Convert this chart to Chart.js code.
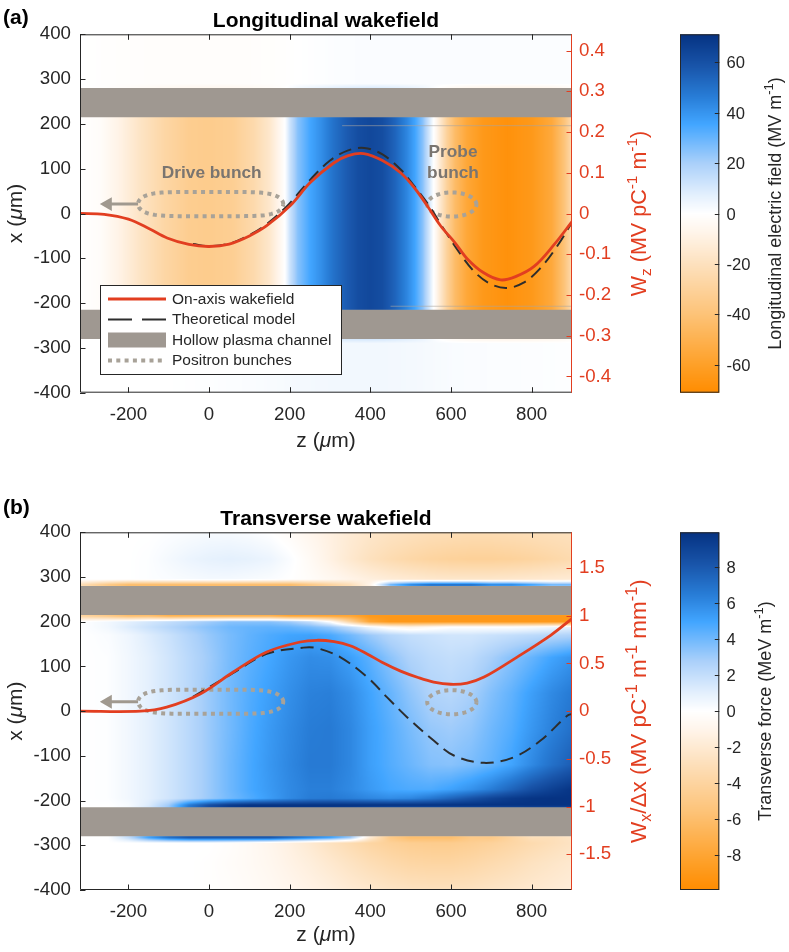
<!DOCTYPE html>
<html><head><meta charset="utf-8">
<script src="https://cdn.jsdelivr.net/npm/chart.js@4.4.1/dist/chart.umd.min.js"></script>
<style>
html,body{margin:0;padding:0;background:#fff;}
#wrap{position:relative;width:789px;height:952px;overflow:hidden;background:#fff}
canvas{position:absolute;left:0}
</style>
</head><body>
<div id="wrap">
<canvas id="ca" width="789" height="476" style="top:0px"></canvas>
<canvas id="cb" width="789" height="476" style="top:476px"></canvas>
</div>
<script>
// ---------------- axes / ticks ----------------
const zRange = [-320, 900];
const xRange = [-400, 400];
const zTicks = [-200, 0, 200, 400, 600, 800];
const xTicks = [-400, -300, -200, -100, 0, 100, 200, 300, 400];
const wzRange = [-0.44, 0.44];
const wzTicks = [-0.4, -0.3, -0.2, -0.1, 0, 0.1, 0.2, 0.3, 0.4];
const wxRange = [-1.875, 1.875];
const wxTicks = [-1.5, -1, -0.5, 0, 0.5, 1, 1.5];
const ezRange = [-71, 71];
const ezBarTicks = [-60, -40, -20, 0, 20, 40, 60];
const fxRange = [-9.95, 9.95];
const fxBarTicks = [-8, -6, -4, -2, 0, 2, 4, 6, 8];

// ---------------- curves ----------------
const wzZ = [-320,-260,-200,-147,-104,-50,0,50,100,143,201,251,309,345,383,430,475,510,541,574,610,640,680,723,760,806,856,900];
const wzOnAxis = [0,-0.002,-0.014,-0.038,-0.060,-0.076,-0.081,-0.075,-0.055,-0.030,0.019,0.076,0.124,0.142,0.147,0.130,0.100,0.062,0.019,-0.030,-0.072,-0.111,-0.145,-0.163,-0.155,-0.130,-0.076,-0.020];
const wzTheoryZ = [-40,0,50,100,143,195,250,300,345,385,430,475,510,545,580,620,660,700,739,780,820,860,900];
const wzTheory = [-0.075,-0.080,-0.074,-0.053,-0.026,0.020,0.082,0.130,0.155,0.161,0.145,0.108,0.066,0.020,-0.035,-0.095,-0.145,-0.174,-0.183,-0.170,-0.136,-0.085,-0.022];

const wxZ = [-320,-170,-105,-22,60,143,226,268,310,350,392,430,475,520,557,599,640,682,764,847,900];
const wxOnAxis = [0,0,0.042,0.18,0.41,0.62,0.725,0.743,0.728,0.685,0.600,0.510,0.420,0.350,0.305,0.282,0.295,0.357,0.567,0.795,0.97];
const wxTheoryZ = [-40,60,143,234,268,325,392,441,491,557,607,682,756,822,889,900];
const wxTheory = [0.15,0.40,0.60,0.666,0.66,0.567,0.357,0.147,-0.063,-0.308,-0.465,-0.542,-0.483,-0.308,-0.045,-0.03];

// ---------------- plasma channel (x, um) ----------------
const channelUpper = [215, 280];
const channelLower = [-280, -215];
// thin perturbed channel-wall lines in (a): [x, z from, z to]
const wallLinesA = [[196, 330, 900], [-207, 450, 900]];

// ---------------- bunches: [z centre, x centre, z half-length, x half-width, shape exponent] ----------------
const driveBunch = [4, 21, 180, 27, 6];
const probeBunch = [602, 20, 61, 27, 2];
const arrowShaft = [-176, -245];
const arrowTip = -251;

// ---------------- longitudinal field Ez (MV/m) ----------------
const ezZ = [-320,-270,-220,-170,-110,-50,0,60,110,150,175,188,200,220,250,280,310,340,370,400,430,460,490,510,530,545,557,570,590,610,640,680,740,800,850,880,900];
const ezInner = [0,-2,-9,-18,-27,-33,-34,-32,-25,-16,-6,0,12,25,35,42,50,56,61,63,61,54,44,36,25,12,0,-12,-30,-44,-56,-64,-68,-64,-55,-40,-24];
const ezOuterTop = [0,-0.5,-1,-1.2,-1.5,-1.5,-1.5,-1.5,-1.2,-1,-0.8,-0.6,-0.4,0,0.3,0.6,0.9,1.1,1.2,1.3,1.3,1.3,1.3,1.3,1.3,1.3,1.3,1.3,1.3,1.3,1.2,1.2,1.1,1,1,1,1];
const ezOuterBottom = [0,0,0,0,0,0.3,0.6,1,1.4,1.8,2,2.2,2.5,2.8,3,3.2,3.4,3.5,3.5,3.5,3.4,3.2,3,2.8,2.6,2.4,2.2,2,1.8,1.6,1.4,1.2,1,0.8,0.7,0.6,0.5];
const ezRowX = [400, 290, 213, -213, -290, -400];

// ---------------- transverse force Fx (MeV/m) ----------------
const fxZ = [-320,-250,-200,-150,-100,-50,0,50,100,150,200,250,300,350,400,450,500,550,600,650,700,750,800,850,900];
const fxRowX = [400,340,295,283,213,200,188,170,120,40,-40,-120,-175,-195,-210,-283,-295,-340,-400];
const fxGrid = [
 [0,0,0,0,0.1,0.2,0.3,0.3,0.2,0,-0.4,-0.9,-1.4,-1.9,-2.3,-2.6,-2.8,-3.0,-3.1,-3.2,-3.2,-3.1,-3.0,-2.9,-2.8],
 [0,0,0,0.1,0.4,0.7,0.9,1.0,0.9,0.7,0.2,-0.5,-1.3,-2.1,-2.8,-3.3,-3.7,-4.0,-4.2,-4.3,-4.3,-4.2,-4.0,-3.7,-3.4],
 [0,0,0,0.1,0.2,0.3,0.4,0.4,0.3,0.2,0,-0.3,-0.7,-1.1,-1.5,-1.8,-2.0,-2.2,-2.3,-2.3,-2.3,-2.2,-2.1,-2.0,-1.9],
 [-3,-5,-6,-6,-6,-6,-6,-6,-6,-6,-6,-5,-4,-3,-1,4,6,7,7,7,6,6,5,4,4],
 [-4,-5,-6,-6,-7,-7,-7,-7,-7,-7,-8,-8,-8,-8,-9,-9,-9,-9,-9,-9,-9,-9,-9,-9,-9],
 [0,0.5,1,1.5,2,2.5,3,3.5,3.5,3.5,3,2,0,-4,-8,-9,-9,-9,-9,-9,-9,-9,-9,-9,-9],
 [0,0.5,1.2,1.8,2.4,3,3.5,4,4.2,4.3,4.2,3.8,3.2,2,0.5,-0.5,-1,-0.5,0,0,0,0,0.2,0.5,1],
 [0,0.2,0.6,1.2,1.8,2.5,3.2,3.8,4.3,4.7,5.0,5.1,4.8,4.0,3.1,2.4,2.0,1.8,1.6,1.6,1.8,2.0,2.2,2.4,2.6],
 [0,0.1,0.5,1.0,1.6,2.3,3.0,3.8,4.4,4.9,5.5,5.9,5.8,5.2,4.4,3.4,2.6,2.2,2.0,2.2,2.8,3.5,4.2,5.0,5.6],
 [0,0.1,0.5,1.0,1.6,2.3,3.1,3.9,4.6,5.2,5.8,6.3,6.4,5.9,5.0,4.2,3.3,2.6,2.4,2.8,3.6,4.3,5.2,6.0,6.6],
 [0,0.1,0.5,1.0,1.6,2.3,3.1,3.9,4.7,5.4,6.0,6.5,6.6,6.1,5.2,4.5,3.8,3.2,3.0,3.3,4.0,4.6,5.5,6.3,7.0],
 [0,0.1,0.5,1.0,1.6,2.3,3.1,4.0,4.8,5.5,6.1,6.6,6.6,6.1,5.2,4.6,4.1,3.6,3.5,3.8,4.3,5.0,6.0,7.0,7.8],
 [0,0.1,0.5,1.0,1.6,2.3,3.1,4.0,4.8,5.4,6.0,6.4,6.4,6.0,5.4,4.9,4.7,4.7,5.1,5.7,6.5,7.5,8.5,9.2,9.8],
 [0,0.1,0.5,1.0,1.6,2.3,3.1,3.9,4.6,5.3,6.0,6.5,6.6,6.4,6.1,5.9,6.1,6.7,7.5,8.3,9.0,9.5,9.8,9.9,9.9],
 [0,0,0.3,1.2,3,6.5,8.5,9.5,9.9,9.9,9.9,9.9,9.9,9.9,9.9,9.9,9.9,9.9,9.9,9.9,9.9,9.9,9.9,9.9,9.9],
 [0,0,2,5,7,8,8,8,8,8,7,6,5,3,-2,-5,-6,-6,-6,-5,-5,-4,-3,-3,-2.5],
 [0,0,0,0,0,0,0,-0.2,-0.5,-0.9,-1.4,-2.0,-2.7,-3.3,-3.9,-4.3,-4.6,-4.7,-4.7,-4.5,-4.2,-3.8,-3.4,-3.0,-2.6],
 [0,0,0,0,0,0,-0.1,-0.3,-0.5,-0.8,-1.2,-1.6,-2.1,-2.6,-3.1,-3.5,-3.8,-3.9,-3.9,-3.7,-3.4,-3.1,-2.7,-2.4,-2.1],
 [0,0,0,0,0,0,-0.1,-0.2,-0.4,-0.6,-0.9,-1.2,-1.5,-1.9,-2.2,-2.5,-2.7,-2.8,-2.8,-2.7,-2.5,-2.3,-2.1,-1.9,-1.7]
];

// ---------------- colormap (orange - white - blue) ----------------
const cmapPos = [-1,-0.845,-0.56,-0.28,-0.1,0,0.1,0.28,0.5,0.65,0.82,1];
const cmapRGB = [[255,140,0],[254,160,40],[253,195,120],[253,225,190],[255,245,235],[255,255,255],[228,240,253],[170,208,250],[65,165,255],[40,125,215],[25,85,170],[5,50,130]];

// ================= helpers =================
const FONT = '"Liberation Sans", Arial, Helvetica, sans-serif';
const DARK = 'rgb(38,38,38)';
const RED = 'rgb(226,62,32)';
const GRAY_BAND = 'rgb(159,152,145)';
const GRAY_DOT = 'rgb(168,162,152)';
const GRAY_TXT = 'rgb(122,117,112)';

const LUT = (function(){
  const n = 2001, out = new Array(n);
  for (let i = 0; i < n; i++) {
    const t = -1 + 2 * i / (n - 1);
    let k = 0; while (k < cmapPos.length - 2 && t > cmapPos[k+1]) k++;
    const f = (t - cmapPos[k]) / (cmapPos[k+1] - cmapPos[k]);
    const a = cmapRGB[k], b = cmapRGB[k+1];
    out[i] = [a[0]+(b[0]-a[0])*f, a[1]+(b[1]-a[1])*f, a[2]+(b[2]-a[2])*f].map(Math.round);
  }
  return out;
})();
function colorOf(t){ t = Math.max(-1, Math.min(1, t)); return LUT[Math.round((t+1)/2*2000)]; }

function pts(xs, ys){ return xs.map((x,i)=>({x:x, y:ys[i]})); }
function bunchOutline(b){
  const [zc, xc, rz, rx, n] = b, out = [];
  for (let i = 0; i <= 120; i++) {
    const t = i / 120 * 2 * Math.PI, c = Math.cos(t), s = Math.sin(t);
    out.push({x: zc + rz * Math.sign(c) * Math.pow(Math.abs(c), 2/n), y: xc + rx * s});
  }
  return out;
}

function heatPlugin(zK, xR, grid, vmax){
  return { id:'heat', beforeDatasetsDraw(chart){
    const ca = chart.chartArea, xs = chart.scales.x, ys = chart.scales.y;
    const L = Math.round(ca.left), T = Math.round(ca.top);
    const W = Math.round(ca.right) - L, H = Math.round(ca.bottom) - T;
    const off = document.createElement('canvas'); off.width = W; off.height = H;
    const oc = off.getContext('2d'); const img = oc.createImageData(W, H); const d = img.data;
    const ci = [], cf = [];
    for (let i = 0; i < W; i++) {
      const z = xs.getValueForPixel(L + i + 0.5);
      let k = 0; while (k < zK.length - 2 && z > zK[k+1]) k++;
      ci.push(k); cf.push(Math.max(0, Math.min(1, (z - zK[k]) / (zK[k+1] - zK[k]))));
    }
    for (let j = 0; j < H; j++) {
      const x = ys.getValueForPixel(T + j + 0.5);
      let r = 0; while (r < xR.length - 2 && x < xR[r+1]) r++;
      const g = Math.max(0, Math.min(1, (xR[r] - x) / (xR[r] - xR[r+1])));
      const A = grid[r], B = grid[r+1];
      for (let i = 0; i < W; i++) {
        const k = ci[i], f = cf[i];
        const va = A[k] + (A[k+1]-A[k]) * f, vb = B[k] + (B[k+1]-B[k]) * f;
        const c = colorOf((va + (vb - va) * g) / vmax);
        const p = (j * W + i) * 4; d[p]=c[0]; d[p+1]=c[1]; d[p+2]=c[2]; d[p+3]=255;
      }
    }
    oc.putImageData(img, 0, 0);
    chart.ctx.drawImage(off, L, T);
  }};
}

function richText(ctx, segs, cx, cy, size, color, rot){
  ctx.save(); ctx.translate(cx, cy); ctx.rotate(rot); ctx.fillStyle = color;
  ctx.textBaseline = 'alphabetic'; ctx.textAlign = 'left';
  const font = (s)=> (s[1]==='it' ? 'italic ' : '') + ((s[1]==='sub'||s[1]==='sup') ? size*0.72 : size) + 'px ' + FONT;
  let total = 0;
  segs.forEach(s=>{ ctx.font = font(s); total += ctx.measureText(s[0]).width; });
  let x = -total / 2;
  segs.forEach(s=>{
    ctx.font = font(s);
    const dy = s[1]==='sub' ? size*0.22 : (s[1]==='sup' ? -size*0.42 : 0);
    ctx.fillText(s[0], x, dy); x += ctx.measureText(s[0]).width;
  });
  ctx.restore();
}

function decoPlugin(P){
  return { id:'deco', afterDatasetsDraw(chart){
    const ctx = chart.ctx, ca = chart.chartArea, xs = chart.scales.x, ys = chart.scales.y, y2 = chart.scales.y2, cb = chart.scales.cb;
    const L = ca.left, R = ca.right, T = ca.top, B = ca.bottom;
    ctx.save();
    if (P.legend) {
      const lx = 100.5, ly = 285.5, lw = 241, lh = 89;
      ctx.fillStyle = '#fff'; ctx.fillRect(lx, ly, lw, lh);
      ctx.strokeStyle = DARK; ctx.lineWidth = 1; ctx.strokeRect(lx, ly, lw, lh);
      const rows = [299, 319.5, 340, 360.5];
      ctx.lineCap = 'butt';
      ctx.strokeStyle = RED; ctx.lineWidth = 2.8; ctx.beginPath(); ctx.moveTo(108, rows[0]); ctx.lineTo(166, rows[0]); ctx.stroke();
      ctx.strokeStyle = 'rgb(45,45,45)'; ctx.lineWidth = 2; ctx.setLineDash([24, 10]); ctx.beginPath(); ctx.moveTo(108, rows[1]); ctx.lineTo(166, rows[1]); ctx.stroke();
      ctx.setLineDash([]); ctx.fillStyle = GRAY_BAND; ctx.fillRect(108, rows[2]-7.5, 58, 15);
      ctx.strokeStyle = GRAY_DOT; ctx.lineWidth = 4; ctx.setLineDash([4, 4.3]); ctx.beginPath(); ctx.moveTo(108, rows[3]); ctx.lineTo(166, rows[3]); ctx.stroke();
      ctx.setLineDash([]);
      ctx.fillStyle = DARK; ctx.font = '15.5px ' + FONT; ctx.textBaseline = 'middle'; ctx.textAlign = 'left';
      ['On-axis wakefield','Theoretical model','Hollow plasma channel','Positron bunches'].forEach((t,i)=>ctx.fillText(t, 172, rows[i]+0.5));
    }
    ctx.lineWidth = 1; ctx.strokeStyle = DARK; ctx.setLineDash([]);
    ctx.beginPath();
    ctx.moveTo(L+0.5, T+0.5); ctx.lineTo(L+0.5, B-0.5); ctx.lineTo(R, B-0.5);
    ctx.moveTo(L, T+0.5); ctx.lineTo(R, T+0.5);
    zTicks.forEach(v=>{ const p = Math.round(xs.getPixelForValue(v))+0.5; ctx.moveTo(p, B); ctx.lineTo(p, B-5.5); ctx.moveTo(p, T); ctx.lineTo(p, T+5.5); });
    xTicks.forEach(v=>{ const p = Math.round(ys.getPixelForValue(v))+0.5; ctx.moveTo(L, p); ctx.lineTo(L+5.5, p); });
    ctx.stroke();
    ctx.strokeStyle = RED; ctx.beginPath();
    ctx.moveTo(R-0.5, T); ctx.lineTo(R-0.5, B);
    P.y2Ticks.forEach(v=>{ const p = Math.round(y2.getPixelForValue(v))+0.5; ctx.moveTo(R, p); ctx.lineTo(R-5.5, p); });
    ctx.stroke();
    const cL = 680, cR = 719.3;
    for (let y = Math.floor(T); y < Math.ceil(B); y++) {
      const c = colorOf(cb.getValueForPixel(y + 0.5) / P.cbMax);
      ctx.fillStyle = 'rgb(' + c[0] + ',' + c[1] + ',' + c[2] + ')';
      ctx.fillRect(cL, Math.max(y, T), cR - cL, 1);
    }
    ctx.strokeStyle = DARK; ctx.lineWidth = 1; ctx.strokeRect(cL + 0.5, T + 0.5, cR - cL - 1, B - T - 1);
    ctx.beginPath();
    ctx.fillStyle = DARK; ctx.font = '16.6px ' + FONT; ctx.textAlign = 'left'; ctx.textBaseline = 'middle';
    P.cbTicks.forEach(v=>{ const p = Math.round(cb.getPixelForValue(v))+0.5; ctx.moveTo(cR, p); ctx.lineTo(cR-4.5, p); ctx.fillText(String(v), 726.5, p+0.5); });
    ctx.stroke();
    ctx.restore();
  },
  afterDraw(chart){
    const ctx = chart.ctx, ca = chart.chartArea;
    ctx.save();
    ctx.fillStyle = '#000'; ctx.textBaseline = 'alphabetic';
    ctx.font = 'bold 21px ' + FONT; ctx.textAlign = 'left'; ctx.fillText(P.tag, 3, P.tagBase);
    ctx.textAlign = 'center'; ctx.fillText(P.title, (ca.left + ca.right)/2, P.titleBase);
    richText(ctx, [['z (',''],['\u03BC','it'],['m)','']], (ca.left+ca.right)/2, P.xTitleBase, 21, DARK, 0);
    richText(ctx, [['x (',''],['\u03BC','it'],['m)','']], 22, (ca.top+ca.bottom)/2, 21, DARK, -Math.PI/2);
    richText(ctx, P.rightLabel, 646, (ca.top+ca.bottom)/2, P.rightLabelSize, RED, -Math.PI/2);
    richText(ctx, P.cbLabel, P.cbLabelX, (ca.top+ca.bottom)/2, 18, DARK, -Math.PI/2);
    if (P.notes) {
      ctx.fillStyle = GRAY_TXT; ctx.font = 'bold 17.3px ' + FONT; ctx.textAlign = 'center'; ctx.textBaseline = 'middle';
      P.notes.forEach(n=>ctx.fillText(n[0], n[1], n[2]));
    }
    ctx.restore();
  }};
}

function makePanel(P){
  const datasets = [
    { label:'on-axis', data: pts(P.lineZ, P.lineV), yAxisID:'y2', borderColor: RED, borderWidth: 2.8, tension:0.35, pointRadius:0, fill:false, order:0 },
    { label:'theory', data: pts(P.theoryZ, P.theoryV), yAxisID:'y2', borderColor:'rgb(45,45,45)', borderWidth:2, borderDash:[13,7], tension:0.35, pointRadius:0, fill:false, order:1 },
    { label:'drive', data: bunchOutline(driveBunch), yAxisID:'y', borderColor: GRAY_DOT, borderWidth:4, borderDash:[4,4.3], tension:0, pointRadius:0, fill:false, order:2 },
    { label:'probe', data: bunchOutline(probeBunch), yAxisID:'y', borderColor: GRAY_DOT, borderWidth:4, borderDash:[4,4.3], tension:0, pointRadius:0, fill:false, order:2 },
    { label:'arrow', data: [{x:arrowShaft[0], y:driveBunch[1]},{x:arrowShaft[1], y:driveBunch[1]}], yAxisID:'y', borderColor:'rgb(160,153,143)', borderWidth:3, pointRadius:0, fill:false, order:3 },
    { label:'arrowhead', data: [{x:arrowTip, y:driveBunch[1]}], yAxisID:'y', showLine:false, pointStyle:'triangle', pointRotation:270, pointRadius:8, pointBackgroundColor:'rgb(160,153,143)', pointBorderWidth:0, order:3 },
    { label:'channel up', data: [{x:zRange[0], y:channelUpper[1]},{x:zRange[1], y:channelUpper[1]}], yAxisID:'y', borderWidth:0, pointRadius:0, fill:{value:channelUpper[0]}, backgroundColor: GRAY_BAND, order:5 },
    { label:'channel low', data: [{x:zRange[0], y:channelLower[1]},{x:zRange[1], y:channelLower[1]}], yAxisID:'y', borderWidth:0, pointRadius:0, fill:{value:channelLower[0]}, backgroundColor: GRAY_BAND, order:5 }
  ];
  (P.wallLines || []).forEach((w,i)=>datasets.push({ label:'wall'+i, data:[{x:w[1], y:w[0]},{x:w[2], y:w[0]}], yAxisID:'y', borderColor:'rgba(170,165,160,0.6)', borderWidth:1, pointRadius:0, fill:false, order:4 }));
  const tickFont = { family: FONT, size: 18.7 };
  return new Chart(document.getElementById(P.canvas), {
    type:'line',
    data:{ datasets },
    options:{
      responsive:false, animation:false, devicePixelRatio:1,
      layout:{ padding:{ top:P.padTop, right:129, left:0, bottom:0 } },
      plugins:{ legend:{display:false}, tooltip:{enabled:false}, title:{display:false} },
      scales:{
        x:{ type:'linear', min:zRange[0], max:zRange[1],
            afterBuildTicks:s=>{ s.ticks = zTicks.map(v=>({value:v})); },
            afterFit:s=>{ s.height = P.xAxisH; },
            grid:{display:false, drawTicks:false}, border:{display:false},
            ticks:{ font:tickFont, color:DARK, padding:11, maxRotation:0, autoSkip:false, callback:v=>String(v) } },
        y:{ type:'linear', position:'left', min:xRange[0], max:xRange[1],
            afterBuildTicks:s=>{ s.ticks = xTicks.map(v=>({value:v})); },
            afterFit:s=>{ s.width = 80; },
            grid:{display:false, drawTicks:false}, border:{display:false},
            ticks:{ font:tickFont, color:DARK, padding:9, autoSkip:false, callback:v=>String(v) } },
        y2:{ type:'linear', position:'right', min:P.y2Range[0], max:P.y2Range[1],
            afterBuildTicks:s=>{ s.ticks = P.y2Ticks.map(v=>({value:v})); },
            afterFit:s=>{ s.width = 88; },
            grid:{display:false, drawTicks:false}, border:{display:false},
            ticks:{ font:tickFont, color:RED, padding:7, autoSkip:false, callback:v=>String(Number(v.toFixed(2))) } },
        cb:{ type:'linear', display:false, position:'right', min:-P.cbMax, max:P.cbMax }
      }
    },
    plugins:[ heatPlugin(P.heat[0], P.heat[1], P.heat[2], P.cbMax), decoPlugin(P) ]
  });
}

const ezGrid = [ezOuterTop, ezOuterTop, ezInner, ezInner, ezOuterBottom, ezOuterBottom];

makePanel({
  canvas:'ca', padTop:34.3, xAxisH:83.3,
  lineZ:wzZ, lineV:wzOnAxis, theoryZ:wzTheoryZ, theoryV:wzTheory,
  y2Range:wzRange, y2Ticks:wzTicks, cbMax:ezRange[1], cbTicks:ezBarTicks,
  heat:[ezZ, ezRowX, ezGrid], wallLines: wallLinesA,
  tag:'(a)', tagBase:24, title:'Longitudinal wakefield', titleBase:26.7, xTitleBase:447,
  rightLabel:[['W',''],['z','sub'],[' (MV pC',''],['-1','sup'],[' m',''],['-1','sup'],[')','']], rightLabelSize:21.5,
  cbLabel:[['Longitudinal electric field (MV m',''],['-1','sup'],[')','']], cbLabelX:781,
  legend:true,
  notes:[['Drive bunch',211.7,173],['Probe',453,152],['bunch',453,173]]
});

makePanel({
  canvas:'cb', padTop:56.3, xAxisH:62,
  lineZ:wxZ, lineV:wxOnAxis, theoryZ:wxTheoryZ, theoryV:wxTheory,
  y2Range:wxRange, y2Ticks:wxTicks, cbMax:fxRange[1], cbTicks:fxBarTicks,
  heat:[fxZ, fxRowX, fxGrid], wallLines: [],
  tag:'(b)', tagBase:38, title:'Transverse wakefield', titleBase:48.5, xTitleBase:465,
  rightLabel:[['W',''],['x','sub'],['/\u0394x (MV pC',''],['-1','sup'],[' m',''],['-1','sup'],[' mm',''],['-1','sup'],[')','']], rightLabelSize:22.5,
  cbLabel:[['Transverse force (MeV m',''],['-1','sup'],[')','']], cbLabelX:771,
  legend:false, notes:null
});
</script>
</body></html>
